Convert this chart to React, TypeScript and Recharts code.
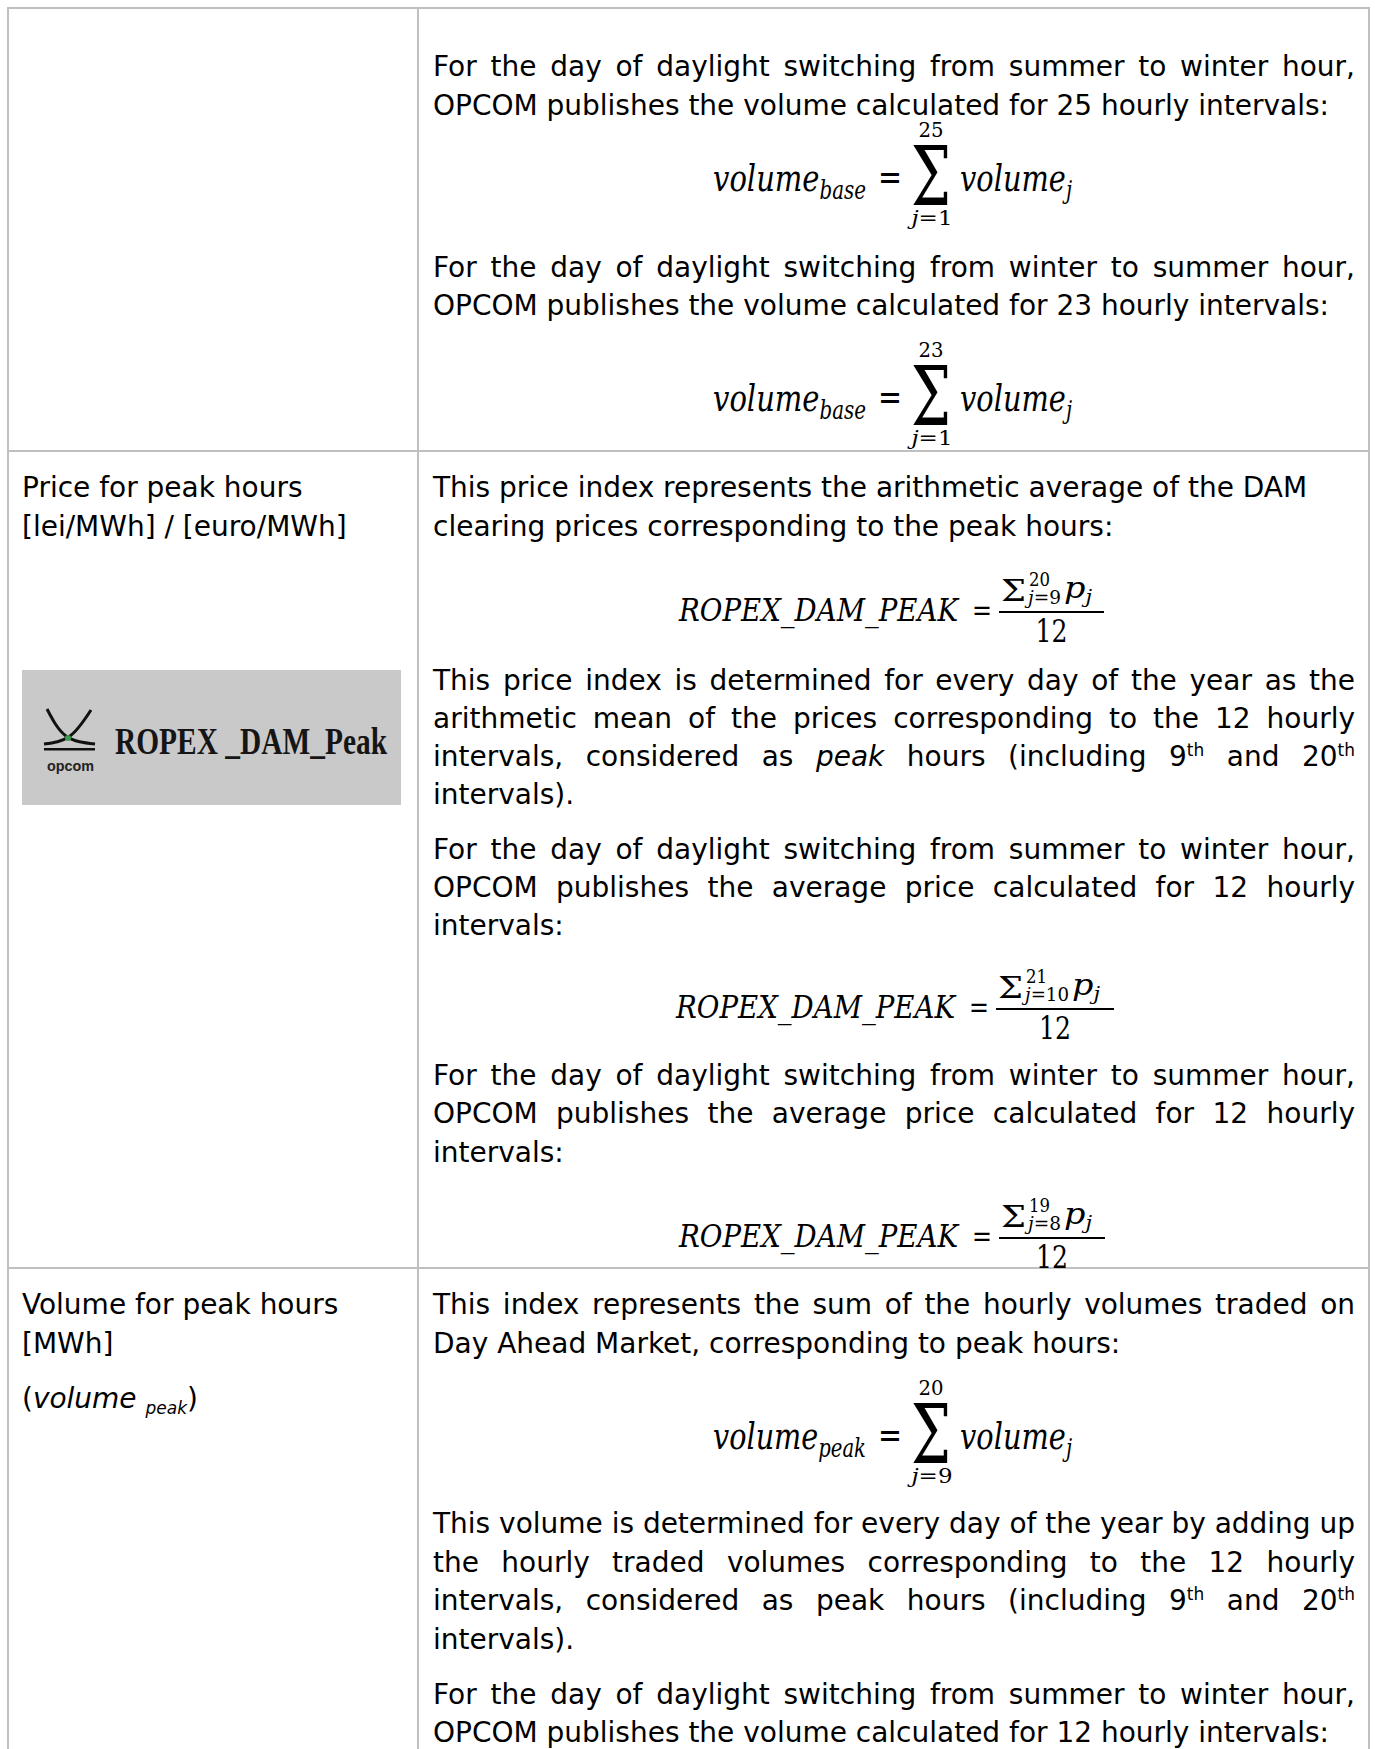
import { useMemo } from 'react'
import { Surface, Layer, Rectangle, Curve, Dot } from 'recharts'

// ---- text content ----
const ROW1_LINES = [
  'For the day of daylight switching from summer to winter hour,',
  'OPCOM publishes the volume calculated for 25 hourly intervals:',
  'For the day of daylight switching from winter to summer hour,',
  'OPCOM publishes the volume calculated for 23 hourly intervals:',
]
const ROW2_LABEL = ['Price for peak hours', '[lei/MWh] / [euro/MWh]']
const ROW2_LINES = [
  'This price index represents the arithmetic average of the DAM',
  'clearing prices corresponding to the peak hours:',
  'This price index is determined for every day of the year as the',
  'arithmetic mean of the prices corresponding to the 12 hourly',
  'intervals, considered as {i:peak} hours (including 9{sup:th} and 20{sup:th}',
  'intervals).',
  'For the day of daylight switching from summer to winter hour,',
  'OPCOM publishes the average price calculated for 12 hourly',
  'intervals:',
  'For the day of daylight switching from winter to summer hour,',
  'OPCOM publishes the average price calculated for 12 hourly',
  'intervals:',
]
const ROW3_LABEL = ['Volume for peak hours', '[MWh]', '({i:volume} {si:peak})']
const ROW3_LINES = [
  'This index represents the sum of the hourly volumes traded on',
  'Day Ahead Market, corresponding to peak hours:',
  'This volume is determined for every day of the year by adding up',
  'the hourly traded volumes corresponding to the 12 hourly',
  'intervals, considered as peak hours (including 9{sup:th} and 20{sup:th}',
  'intervals).',
  'For the day of daylight switching from summer to winter hour,',
  'OPCOM publishes the volume calculated for 12 hourly intervals:',
]
const SUM_LHS_SUB = ['base', 'base', 'peak']
const SUM_UPPER = ['25', '23', '20']
const SUM_LOWER = ['1', '1', '9']
const PEAK_NAME = 'ROPEX_DAM_PEAK'
const PEAK_UPPER = ['20', '21', '19']
const PEAK_LOWER = ['9', '10', '8']
const PEAK_DENOM = '12'
const LOGO_TITLE = 'ROPEX _DAM_Peak'
const LOGO_MARK = 'opcom'

// ---- layout ----
const PAGE_W = 1375
const PAGE_H = 1749
const GRID_X = [8, 418, 1369]
const GRID_Y = [8, 451, 1268]
const GRID_COLOR = '#c0c0c0'
const BODY_FONT = 'DejaVu Sans'
const MATH_FONT = 'DejaVu Serif'
const BODY_SIZE = 28
const SMALL_SIZE = 17
const LEFT_X = 22
const LEFT_W = 385
const RIGHT_X = 433
const RIGHT_W = 922
const REF_WIDTH = 896

const ROW1_Y = [76, 115, 277, 315]
const ROW1_J = [1, 0, 1, 0]
const ROW2_Y = [497, 536, 690, 728, 766, 804, 859, 897, 935, 1085, 1123, 1162]
const ROW2_J = [0, 0, 1, 1, 1, 0, 1, 1, 0, 1, 1, 0]
const ROW3_Y = [1314, 1353, 1533, 1572, 1610, 1649, 1704, 1742]
const ROW3_J = [1, 0, 1, 1, 1, 0, 1, 0]
const LABEL2_Y = [497, 536]
const LABEL3_Y = [1314, 1353, 1408]
const SUM_DY = [0, 220, 1258]
const PEAK_BAR_Y = [612, 1009, 1238]
const PEAK_TEXT_X = [679, 676, 679]
const PEAK_BAR_X = [[999, 1104], [996, 1114], [999, 1105]]

type Measure = (t: string, size: number, family: string, italic?: boolean, bold?: boolean) => number
type Seg = { text: string; italic?: boolean; sup?: boolean; sub?: boolean }
type MSeg = { t: string; it?: boolean; size: number; dy?: number }

function parseWord(word: string): Seg[] {
  const segs: Seg[] = []
  const re = /\{(\w+):([^}]*)\}|([^{]+)/g
  let m: RegExpExecArray | null
  while ((m = re.exec(word))) {
    if (m[3]) segs.push({ text: m[3] })
    else {
      const tag = m[1]
      segs.push({
        text: m[2],
        italic: tag === 'i' || tag === 'si',
        sup: tag === 'sup',
        sub: tag === 'sub' || tag === 'si',
      })
    }
  }
  return segs
}

function TextLine({ text, x, y, width, justify, m, scale }: {
  text: string; x: number; y: number; width: number; justify: boolean; m: Measure; scale: number
}) {
  const words = text.split(' ').map(parseWord)
  const segSize = (s: Seg) => (s.sup || s.sub ? SMALL_SIZE : BODY_SIZE)
  const segW = words.map((w) => w.map((s) => m(s.text, segSize(s), BODY_FONT, s.italic) * scale))
  const wordW = segW.map((ws) => ws.reduce((a, b) => a + b, 0))
  const total = wordW.reduce((a, b) => a + b, 0)
  const space = m(' ', BODY_SIZE, BODY_FONT) * scale
  const n = words.length
  let gap = space
  let k = 1
  if (justify && n > 1) gap = (width - total) / (n - 1)
  if (gap < space * 0.5) {
    gap = space * 0.5
    k = (width - gap * (n - 1)) / total
  } else if (!justify && total + gap * (n - 1) > width) {
    k = width / (total + gap * (n - 1))
    gap *= k
  }
  const out: JSX.Element[] = []
  let cx = x
  words.forEach((w, i) => {
    w.forEach((s, j) => {
      const sw = segW[i][j] * k
      out.push(
        <text
          key={`${i}-${j}`}
          x={cx}
          y={y + (s.sup ? -10 : s.sub ? 6 : 0)}
          fontSize={segSize(s)}
          fontStyle={s.italic ? 'italic' : 'normal'}
          textLength={sw}
          lengthAdjust="spacingAndGlyphs"
        >
          {s.text}
        </text>
      )
      cx += sw
    })
    cx += gap
  })
  return <g fontFamily={BODY_FONT} fill="#000">{out}</g>
}

function MathRow({ segs, x, y, w, m, center }: {
  segs: MSeg[]; x: number; y: number; w: number; m: Measure; center?: boolean
}) {
  const nat = segs.map((s) => m(s.t, s.size, MATH_FONT, s.it))
  const tot = nat.reduce((a, b) => a + b, 0)
  const k = w / tot
  let cx = center ? x - w / 2 : x
  return (
    <g fontFamily={MATH_FONT} fill="#000">
      {segs.map((s, i) => {
        const sw = nat[i] * k
        const el = (
          <text
            key={i}
            x={cx}
            y={y + (s.dy ?? 0)}
            fontSize={s.size}
            fontStyle={s.it ? 'italic' : 'normal'}
            textLength={sw}
            lengthAdjust="spacingAndGlyphs"
          >
            {s.t}
          </text>
        )
        cx += sw
        return el
      })}
    </g>
  )
}

function SumFormula({ i, m }: { i: number; m: Measure }) {
  const dy = SUM_DY[i]
  const base = 191 + dy
  return (
    <Layer>
      <MathRow m={m} x={713} y={base} w={153}
        segs={[{ t: 'volume', it: true, size: 38 }, { t: SUM_LHS_SUB[i], it: true, size: 26, dy: 8 }]} />
      <MathRow m={m} x={878} y={base - 1} w={24} segs={[{ t: '=', size: 38 }]} />
      <MathRow m={m} x={911} y={205 + dy} w={40} segs={[{ t: 'Σ', size: 82 }]} />
      <MathRow m={m} x={931} y={137 + dy} w={25} center segs={[{ t: SUM_UPPER[i], size: 20 }]} />
      <MathRow m={m} x={932} y={225 + dy} w={41} center
        segs={[{ t: 'j', it: true, size: 20 }, { t: '=' + SUM_LOWER[i], size: 20 }]} />
      <MathRow m={m} x={960} y={base} w={112}
        segs={[{ t: 'volume', it: true, size: 38 }, { t: 'j', it: true, size: 26, dy: 8 }]} />
    </Layer>
  )
}

function PeakFormula({ i, m }: { i: number; m: Measure }) {
  const bar = PEAK_BAR_Y[i]
  const [b0, b1] = PEAK_BAR_X[i]
  const lowerW = PEAK_LOWER[i].length > 1 ? 44 : 33
  const pX = b0 + 29 + lowerW + 3
  return (
    <Layer>
      <MathRow m={m} x={PEAK_TEXT_X[i]} y={bar + 9} w={279} segs={[{ t: PEAK_NAME, it: true, size: 32 }]} />
      <MathRow m={m} x={PEAK_TEXT_X[i] + 293} y={bar + 8} w={20} segs={[{ t: '=', size: 30 }]} />
      <Rectangle x={b0} y={bar - 1} width={b1 - b0} height={2} fill="#000" />
      <MathRow m={m} x={b0 + 2} y={bar - 11} w={25} segs={[{ t: 'Σ', size: 30 }]} />
      <MathRow m={m} x={b0 + 30} y={bar - 26} w={21} segs={[{ t: PEAK_UPPER[i], size: 19 }]} />
      <MathRow m={m} x={b0 + 29} y={bar - 8} w={lowerW}
        segs={[{ t: 'j', it: true, size: 19 }, { t: '=' + PEAK_LOWER[i], size: 19 }]} />
      <MathRow m={m} x={pX} y={bar - 14} w={28}
        segs={[{ t: 'p', it: true, size: 30 }, { t: 'j', it: true, size: 19, dy: 5 }]} />
      <MathRow m={m} x={(b0 + b1) / 2} y={bar + 30} w={32} center segs={[{ t: PEAK_DENOM, size: 31 }]} />
    </Layer>
  )
}

function Logo() {
  return (
    <Layer>
      <Rectangle x={22} y={670} width={379} height={135} fill="#c9c9c9" />
      <Curve type="natural" points={[{ x: 47, y: 709 }, { x: 66, y: 736 }, { x: 95, y: 744 }]}
        stroke="#111" strokeWidth={3} fill="none" />
      <Curve type="natural" points={[{ x: 91, y: 710 }, { x: 70, y: 736 }, { x: 44, y: 744 }]}
        stroke="#111" strokeWidth={3} fill="none" />
      <Dot cx={68} cy={738} r={3} fill="#3a9a4a" />
      <Rectangle x={44} y={748} width={51} height={2.5} fill="#111" />
      <text x={70.5} y={771} textAnchor="middle" fontFamily="Liberation Sans" fontWeight="bold"
        fontSize={15} fill="#222" textLength={47} lengthAdjust="spacingAndGlyphs">{LOGO_MARK}</text>
      <text x={115} y={754} fontFamily="Liberation Serif" fontWeight="bold" fontSize={38}
        fill="#151515" textLength={272} lengthAdjust="spacingAndGlyphs">{LOGO_TITLE}</text>
    </Layer>
  )
}

export default function App() {
  const m = useMemo<Measure>(() => {
    const ctx = document.createElement('canvas').getContext('2d')!
    return (t, size, family, italic = false, bold = false) => {
      ctx.font = `${italic ? 'italic' : 'normal'} ${bold ? 'bold' : 'normal'} ${size}px "${family}"`
      return ctx.measureText(t).width
    }
  }, [])
  const scale = REF_WIDTH / m(ROW1_LINES[1], BODY_SIZE, BODY_FONT)

  const block = (lines: string[], ys: number[], js: number[], x: number, w: number) =>
    lines.map((t, i) => (
      <TextLine key={i} text={t} x={x} y={ys[i]} width={w} justify={!!js[i]} m={m} scale={scale} />
    ))

  return (
    <Surface width={PAGE_W} height={PAGE_H} style={{ position: 'absolute', left: 0, top: 0, background: '#fff' }}>
      {/* table grid */}
      {GRID_Y.map((y) => (
        <Rectangle key={'h' + y} x={GRID_X[0] - 1} y={y - 1} width={GRID_X[2] - GRID_X[0] + 2} height={2} fill={GRID_COLOR} />
      ))}
      {GRID_X.map((x) => (
        <Rectangle key={'v' + x} x={x - 1} y={GRID_Y[0] - 1} width={2} height={PAGE_H - GRID_Y[0] + 1} fill={GRID_COLOR} />
      ))}

      {block(ROW1_LINES, ROW1_Y, ROW1_J, RIGHT_X, RIGHT_W)}
      <SumFormula i={0} m={m} />
      <SumFormula i={1} m={m} />

      {block(ROW2_LABEL, LABEL2_Y, [0, 0], LEFT_X, LEFT_W)}
      <Logo />
      {block(ROW2_LINES, ROW2_Y, ROW2_J, RIGHT_X, RIGHT_W)}
      <PeakFormula i={0} m={m} />
      <PeakFormula i={1} m={m} />
      <PeakFormula i={2} m={m} />

      {block(ROW3_LABEL, LABEL3_Y, [0, 0, 0], LEFT_X, LEFT_W)}
      {block(ROW3_LINES, ROW3_Y, ROW3_J, RIGHT_X, RIGHT_W)}
      <SumFormula i={2} m={m} />
    </Surface>
  )
}
